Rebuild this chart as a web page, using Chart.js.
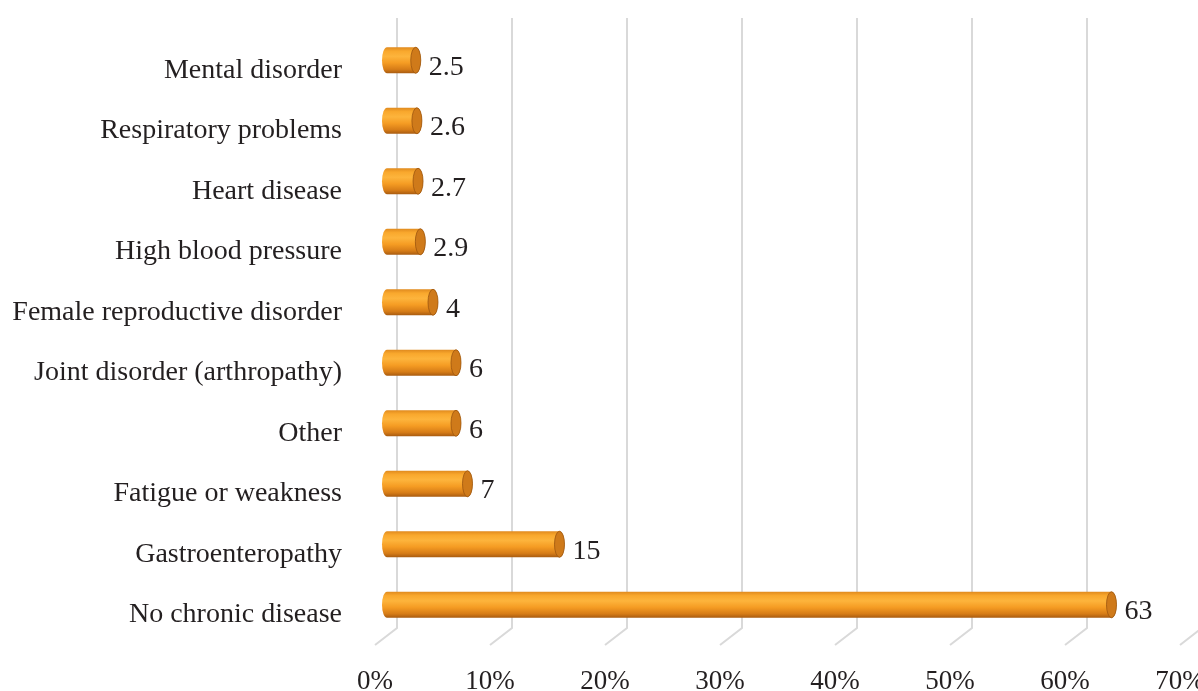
<!DOCTYPE html>
<html>
<head>
<meta charset="utf-8">
<script src="https://cdn.jsdelivr.net/npm/chart.js@4.4.1/dist/chart.umd.min.js"></script>
<style>
  html, body { margin: 0; padding: 0; background: #fff; }
  #wrap { width: 1198px; height: 691px; }
</style>
</head>
<body>
<div id="wrap"><canvas id="myChart"></canvas></div>
<script>
const categories = [
  'Mental disorder',
  'Respiratory problems',
  'Heart disease',
  'High blood pressure',
  'Female reproductive disorder',
  'Joint disorder (arthropathy)',
  'Other',
  'Fatigue or weakness',
  'Gastroenteropathy',
  'No chronic disease'
];
const values = [2.5, 2.6, 2.7, 2.9, 4, 6, 6, 7, 15, 63];
const tickLabels = ['0%', '10%', '20%', '30%', '40%', '50%', '60%', '70%'];

const textColor = '#231f20';
const serif = '"Liberation Serif", "Times New Roman", serif';

// gridlines with a little 3D floor at the bottom
const grid3d = {
  id: 'grid3d',
  beforeDatasetsDraw(chart) {
    const ctx = chart.ctx;
    const xs = chart.scales.x;
    const bottom = chart.chartArea.bottom;
    ctx.save();
    ctx.strokeStyle = '#d9d9d9';
    ctx.lineWidth = 2;
    for (let i = 0; i < tickLabels.length; i++) {
      const px = xs.getPixelForValue(i * 10);
      ctx.beginPath();
      ctx.moveTo(px + 10, 18);
      ctx.lineTo(px + 10, bottom - 17);
      ctx.lineTo(px - 12, bottom);
      ctx.stroke();
    }
    ctx.restore();
  }
};

// draw each bar as a cylinder, plus its value label
const cylinders = {
  id: 'cylinders',
  afterDatasetsDraw(chart) {
    const ctx = chart.ctx;
    const meta = chart.getDatasetMeta(0);
    ctx.save();
    meta.data.forEach((bar, i) => {
      const p = bar.getProps(['x', 'base', 'y', 'height'], true);
      const cy = p.y - 10;
      const ry = p.height / 2;
      const rx = 5;

      const g = ctx.createLinearGradient(0, cy - ry, 0, cy + ry);
      g.addColorStop(0, '#e08a1e');
      g.addColorStop(0.15, '#f9a82d');
      g.addColorStop(0.35, '#fdb43c');
      g.addColorStop(0.6, '#f59c23');
      g.addColorStop(0.85, '#d67c17');
      g.addColorStop(1, '#a85b10');

      ctx.beginPath();
      ctx.moveTo(p.x, cy - ry);
      ctx.lineTo(p.base, cy - ry);
      ctx.ellipse(p.base, cy, rx, ry, 0, -Math.PI / 2, Math.PI / 2, true);
      ctx.lineTo(p.x, cy + ry);
      ctx.ellipse(p.x, cy, rx, ry, 0, Math.PI / 2, -Math.PI / 2, true);
      ctx.closePath();
      ctx.fillStyle = g;
      ctx.fill();

      // end face
      ctx.beginPath();
      ctx.ellipse(p.x, cy, rx, ry, 0, 0, Math.PI * 2);
      ctx.fillStyle = '#cf7a1a';
      ctx.fill();
      ctx.strokeStyle = '#9c560f';
      ctx.lineWidth = 0.8;
      ctx.stroke();

      ctx.font = '28px ' + serif;
      ctx.fillStyle = textColor;
      ctx.textAlign = 'left';
      ctx.textBaseline = 'middle';
      ctx.fillText(String(values[i]), p.x + rx + 8, p.y - 3);
    });
    ctx.restore();
  }
};

new Chart(document.getElementById('myChart'), {
  type: 'bar',
  data: {
    labels: categories,
    datasets: [{
      data: values,
      backgroundColor: 'rgba(0,0,0,0)',
      borderWidth: 0,
      barThickness: 26
    }]
  },
  options: {
    indexAxis: 'y',
    responsive: true,
    maintainAspectRatio: false,
    animation: false,
    layout: { padding: { left: 10, top: 40, right: 6, bottom: 0 } },
    plugins: {
      legend: { display: false },
      tooltip: { enabled: false }
    },
    scales: {
      x: {
        min: 0,
        max: 70,
        border: { display: false },
        grid: { display: false, drawTicks: false },
        afterFit(scale) {
          scale.height = 46;
          scale.paddingLeft = 0;
          scale.paddingRight = 0;
        },
        ticks: {
          stepSize: 10,
          padding: 21,
          labelOffset: -12,
          maxRotation: 0,
          color: textColor,
          font: { family: serif, size: 27 },
          callback: (v, i) => tickLabels[i]
        }
      },
      y: {
        border: { display: false },
        grid: { display: false, drawTicks: false },
        afterFit(scale) {
          scale.width = 377;
          scale.paddingTop = 0;
          scale.paddingBottom = 0;
        },
        ticks: {
          padding: 45,
          color: textColor,
          font: { family: serif, size: 28 }
        }
      }
    }
  },
  plugins: [grid3d, cylinders]
});
</script>
</body>
</html>
